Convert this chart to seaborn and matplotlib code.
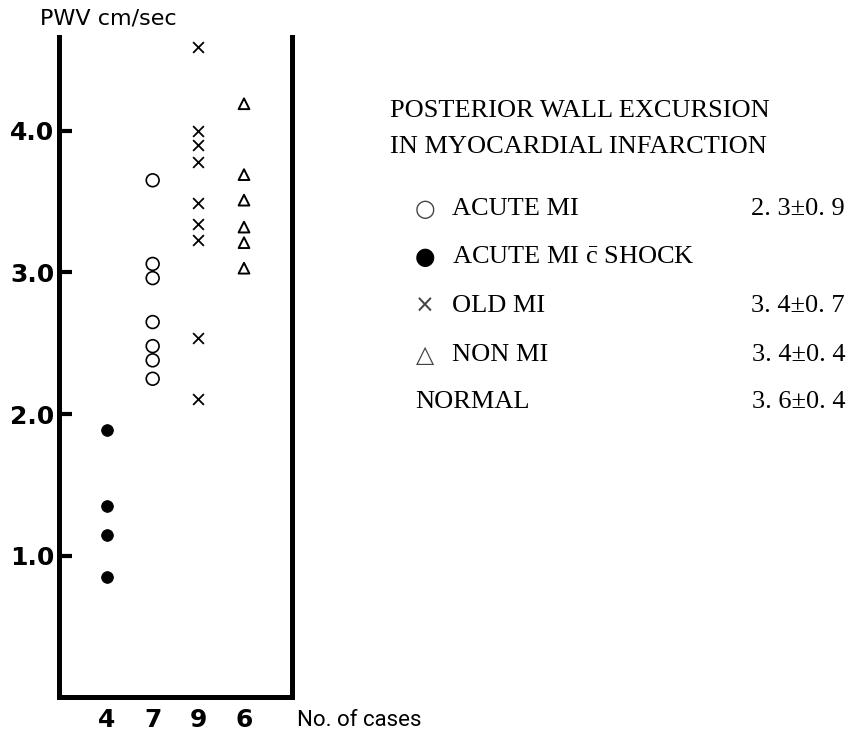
import seaborn as sns
import pandas as pd
import matplotlib.pyplot as plt

# PWV (cm/sec), one list per group
shock_vals = [1.89, 1.35, 1.15, 0.85]
acute_vals = [3.65, 3.06, 2.96, 2.65, 2.48, 2.38, 2.25]
old_vals = [4.59, 4.00, 3.90, 3.78, 3.49, 3.34, 3.23, 2.54, 2.11]
non_vals = [4.19, 3.69, 3.51, 3.32, 3.21, 3.03]

groups = ["ACUTE MI c SHOCK", "ACUTE MI", "OLD MI", "NON MI"]
group_vals = [shock_vals, acute_vals, old_vals, non_vals]
case_labels = ["4", "7", "9", "6"]

legend_names = ["ACUTE MI", r"ACUTE MI $\bar{\mathrm{c}}$ SHOCK", "OLD MI", "NON MI", "NORMAL"]
legend_glyphs = ["\u25cb", "\u25cf", "\u00d7", "\u25b3", ""]
legend_stats = ["2. 3\u00b10. 9", "", "3. 4\u00b10. 7", "3. 4\u00b10. 4", "3. 6\u00b10. 4"]

sns.set_theme(style="white")
plt.rcParams["font.family"] = ["DejaVu Sans"]
plt.rcParams["text.color"] = "black"
plt.rcParams["xtick.color"] = "black"
plt.rcParams["ytick.color"] = "black"
plt.rcParams["mathtext.fontset"] = "custom"
plt.rcParams["mathtext.rm"] = "Liberation Serif"

rows = []
for i, (g, vals) in enumerate(zip(groups, group_vals)):
    for v in vals:
        rows.append({"pos": i, "group": g, "pwv": v})
df = pd.DataFrame(rows)

W, H = 848, 736
fig = plt.figure(figsize=(W / 100, H / 100), dpi=100)
ax = fig.add_axes([58.5 / W, (H - 697) / H, (292 - 58.5) / W, (697 - 36.7) / H])

marker_style = {
    groups[0]: dict(marker="o", s=70, color="black", edgecolor="black"),
    groups[1]: dict(marker="o", s=85, facecolor="none", edgecolor="black", linewidth=1.2),
    groups[2]: dict(marker="x", s=60, color="black", linewidth=1.3),
    groups[3]: dict(marker="^", s=60, facecolor="none", edgecolor="black", linewidth=1.4),
}
for g in groups:
    sub = df[df["group"] == g]
    sns.scatterplot(data=sub, x="pos", y="pwv", ax=ax, legend=False, **marker_style[g])

ax.set_xlim(-1.062, 4.051)
ax.set_ylim(0.005, 4.663)
ax.set_xticks(range(len(case_labels)))
ax.set_xticklabels(case_labels, fontsize=18, fontweight="bold")
ax.set_yticks([1, 2, 3, 4])
ax.set_yticklabels(["1.0", "2.0", "3.0", "4.0"], fontsize=18, fontweight="bold")
ax.tick_params(axis="y", direction="in", length=9, width=3, pad=3, left=True)
ax.tick_params(axis="x", length=0, pad=8)
ax.set_xlabel("")
ax.set_ylabel("")
ax.spines["top"].set_visible(False)
for side in ["left", "right", "bottom"]:
    ax.spines[side].set_linewidth(3.6)
    ax.spines[side].set_color("black")

fig.text(40 / W, 1 - 18 / H, "PWV cm/sec", fontsize=16, va="center", ha="left")
fig.text(297 / W, 1 - 721 / H, "No. of cases", fontsize=16, va="center", ha="left",
         family=["Liberation Sans Narrow", "Roboto"])

serif = ["Liberation Serif", "DejaVu Serif"]
fig.text(390 / W, 1 - 111 / H, "POSTERIOR WALL EXCURSION", fontsize=19, va="center", family=serif)
fig.text(390 / W, 1 - 147 / H, "IN MYOCARDIAL INFARCTION", fontsize=19, va="center", family=serif)

row_y = [209, 257, 306, 355, 402]
for y, name, glyph, stat in zip(row_y, legend_names, legend_glyphs, legend_stats):
    if glyph:
        fig.text(425 / W, 1 - y / H, glyph, fontsize=17, va="center", ha="center",
                 family=["DejaVu Sans"], color="#444444" if glyph != "\u25cf" else "black")
        fig.text(452 / W, 1 - y / H, name, fontsize=19, va="center", family=serif)
    else:
        fig.text(415 / W, 1 - y / H, name, fontsize=19, va="center", family=serif)
    if stat:
        fig.text(845 / W, 1 - y / H, stat, fontsize=19, va="center", ha="right", family=serif)

fig.savefig("out.png", dpi=100)
